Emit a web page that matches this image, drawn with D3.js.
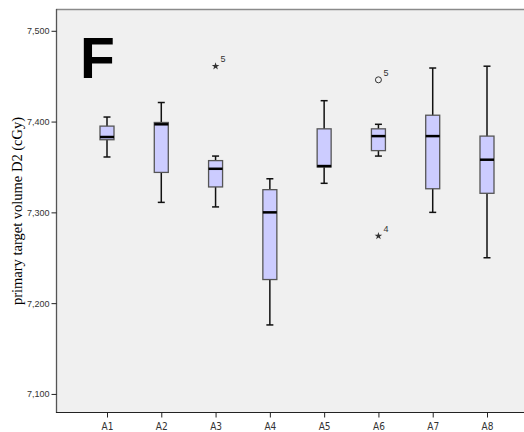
<!DOCTYPE html>
<html>
<head>
<meta charset="utf-8">
<script src="https://cdn.jsdelivr.net/npm/d3@7"></script>
<style>
  body { margin: 0; background: #fff; }
  svg { display: block; }
</style>
</head>
<body>
<svg width="524" height="432"></svg>
<script>
// values (cGy)
var groups  = ['A1', 'A2', 'A3', 'A4', 'A5', 'A6', 'A7', 'A8'];
var lowWhisk  = [7361, 7311, 7306, 7176, 7332, 7362, 7300, 7250];
var q1        = [7380, 7344, 7328, 7226, 7350, 7368, 7326, 7321];
var medians   = [7383, 7397, 7348, 7300, 7351, 7384, 7384, 7358];
var q3        = [7395, 7399, 7357, 7325, 7392, 7392, 7407, 7384];
var highWhisk = [7405, 7421, 7362, 7337, 7423, 7397, 7459, 7461];
var outliers = [
  { group: 'A3', value: 7461, label: '5', kind: 'extreme' },
  { group: 'A6', value: 7446, label: '5', kind: 'outlier' },
  { group: 'A6', value: 7274, label: '4', kind: 'extreme' }
];
var yTicks = [7100, 7200, 7300, 7400, 7500];

var svg = d3.select('svg');
var plotL = 56, plotT = 9, plotR = 524, plotB = 413;

var y = d3.scaleLinear().domain([7079, 7524]).range([plotB, plotT]);
var x = d3.scalePoint().domain(groups).range([107, 487]);

svg.append('rect')
  .attr('x', plotL).attr('y', plotT)
  .attr('width', plotR - plotL).attr('height', plotB - plotT)
  .attr('fill', '#f0f0f0');

// frame: top line
svg.append('line').attr('x1', plotL).attr('x2', plotR).attr('y1', plotT + 0.5).attr('y2', plotT + 0.5)
  .attr('stroke', '#8a8a8a').attr('stroke-width', 1.5);

var yAxis = svg.append('g')
  .attr('transform', 'translate(' + (plotL + 0.5) + ',0)')
  .call(d3.axisLeft(y).tickValues(yTicks).tickSize(5).tickSizeOuter(0)
    .tickFormat(d3.format(',')));
yAxis.select('.domain').attr('d', 'M0,' + plotT + 'V' + plotB).attr('stroke', '#555').attr('stroke-width', 1.3);
yAxis.selectAll('.tick line').attr('stroke', '#222');
yAxis.selectAll('text').attr('font-family', 'Liberation Sans, Arial, sans-serif')
  .attr('font-size', 9).attr('fill', '#333').attr('dx', 1);

var xAxis = svg.append('g')
  .attr('transform', 'translate(0,' + (plotB - 0.5) + ')')
  .call(d3.axisBottom(x).tickSize(5).tickSizeOuter(0));
xAxis.select('.domain').attr('d', 'M' + plotL + ',0H' + plotR).attr('stroke', '#222').attr('stroke-width', 1.2);
xAxis.selectAll('.tick line').attr('stroke', '#222');
xAxis.selectAll('text').attr('font-family', 'DejaVu Sans Condensed, DejaVu Sans, sans-serif')
  .attr('font-size', 10).attr('fill', '#333').attr('dy', '0.9em');

svg.append('text')
  .attr('transform', 'translate(22,' + ((plotT + plotB) / 2) + ') rotate(-90)')
  .attr('text-anchor', 'middle')
  .attr('font-family', 'Liberation Serif, Times New Roman, serif')
  .attr('font-size', 14.5)
  .attr('fill', '#000')
  .text('primary target volume D2 (cGy)');

svg.append('text')
  .attr('x', 80).attr('y', 78)
  .attr('font-family', 'Liberation Sans, Arial, sans-serif')
  .attr('font-weight', 'bold')
  .attr('font-size', 57)
  .attr('fill', '#000')
  .text('F');

var boxW = 14, capW = 7;

var rows = groups.map(function(g, i) {
  return { g: g, lo: lowWhisk[i], q1: q1[i], med: medians[i], q3: q3[i], hi: highWhisk[i] };
});

var box = svg.selectAll('g.box').data(rows).enter().append('g').attr('class', 'box');

box.append('line')
  .attr('x1', function(d) { return x(d.g); }).attr('x2', function(d) { return x(d.g); })
  .attr('y1', function(d) { return y(d.hi); }).attr('y2', function(d) { return y(d.lo); })
  .attr('stroke', '#111').attr('stroke-width', 1.5);

box.selectAll('line.cap')
  .data(function(d) { return [{ g: d.g, v: d.hi }, { g: d.g, v: d.lo }]; })
  .enter().append('line').attr('class', 'cap')
  .attr('x1', function(d) { return x(d.g) - capW / 2; })
  .attr('x2', function(d) { return x(d.g) + capW / 2; })
  .attr('y1', function(d) { return y(d.v); }).attr('y2', function(d) { return y(d.v); })
  .attr('stroke', '#111').attr('stroke-width', 1.5);

box.append('rect')
  .attr('x', function(d) { return x(d.g) - boxW / 2; })
  .attr('y', function(d) { return y(d.q3); })
  .attr('width', boxW)
  .attr('height', function(d) { return y(d.q1) - y(d.q3); })
  .attr('fill', '#ccccff')
  .attr('stroke', '#555').attr('stroke-width', 1.3);

box.append('line')
  .attr('x1', function(d) { return x(d.g) - boxW / 2; })
  .attr('x2', function(d) { return x(d.g) + boxW / 2; })
  .attr('y1', function(d) { return y(d.med); }).attr('y2', function(d) { return y(d.med); })
  .attr('stroke', '#000').attr('stroke-width', 2.5);

var out = svg.selectAll('g.out').data(outliers).enter().append('g').attr('class', 'out')
  .attr('transform', function(d) { return 'translate(' + x(d.group) + ',' + y(d.value) + ')'; });

out.filter(function(d) { return d.kind === 'outlier'; })
  .append('circle').attr('r', 3).attr('fill', 'none').attr('stroke', '#333').attr('stroke-width', 1);

out.filter(function(d) { return d.kind === 'extreme'; })
  .append('path')
  .attr('d', d3.symbol().type(d3.symbolStar).size(18))
  .attr('fill', '#333');

out.append('text')
  .attr('x', 5).attr('y', -4)
  .attr('font-family', 'Liberation Sans, Arial, sans-serif')
  .attr('font-size', 9).attr('fill', '#333')
  .text(function(d) { return d.label; });
</script>
</body>
</html>
